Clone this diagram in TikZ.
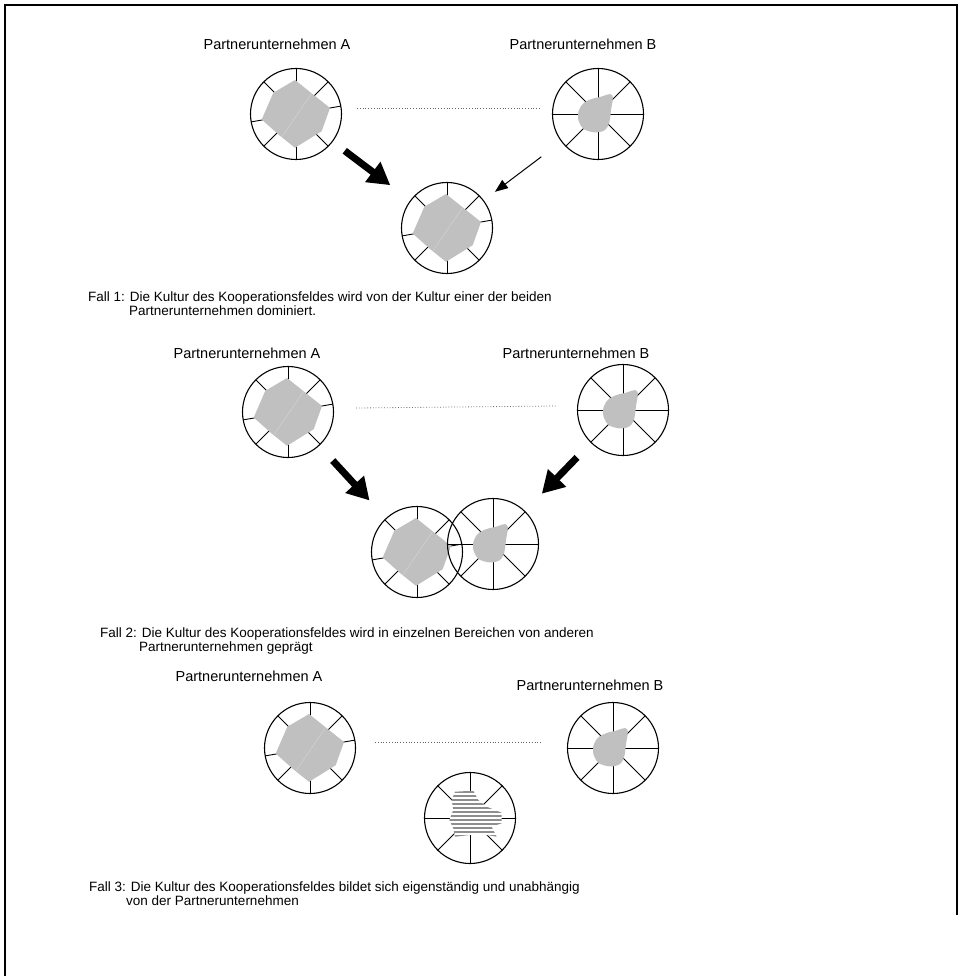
\documentclass[tikz,border=0pt]{standalone}
\usepackage{fontspec}
\setmainfont{Liberation Sans}
\usepackage{tikz}
\usetikzlibrary{arrows.meta}
\definecolor{profgray}{HTML}{C0C0C0}
\definecolor{stripegray}{HTML}{8E8E8E}

\begin{document}
\begin{tikzpicture}[x=1pt,y=-1pt,
  wheel/.style={circle,draw,line width=1.1pt,minimum size=91pt,inner sep=0pt},
  partner/.style={font=\fontsize{14.5}{17}\selectfont,anchor=base,inner sep=0pt},
  note/.style={font=\fontsize{13.5}{14}\selectfont,anchor=base west,inner sep=0pt},
  bigarrow/.style={-{Triangle[length=22pt,width=24pt]},line width=7pt},
  thinarrow/.style={-{Triangle[length=13pt,width=10pt]},line width=1pt},
  dotline/.style={dotted,gray!80!black,line width=0.8pt},
  spokesA/.pic={
    \foreach \a in {-90,-45,-10,45,90,135,170,-135}
      \draw[line width=0.9pt] (0,0) -- (\a:45.5);
    \fill[profgray] (-1,-34) -- (34,-6) -- (25.7,17.2) -- (-1,33.8) -- (-17,21)
      -- (-34.3,5.5) -- (-22.7,-21.2) -- cycle;
    \draw[profgray!70!white,line width=0.5pt] (15.7,-20.6) -- (-14.3,23.2);
  },
  spokesB/.pic={
    \foreach \a in {0,45,...,315}
      \draw[line width=0.9pt] (0,0) -- (\a:45.5);
    \fill[profgray] plot[smooth cycle,tension=0.7] coordinates {(14,-19) (13,-4)
      (10,12) (2,18) (-10,17) (-17,12) (-20,2) (-17,-8) (-9,-14) (2,-17)};
  },
  spokesK/.pic={
    \foreach \a in {0,45,...,315}
      \draw[line width=0.9pt] (0,0) -- (\a:46);
    \fill[white] (-15,-26.3) -- (3.3,-27.3) -- (8.3,-18) -- (16.7,-11.3) -- (31.7,-5.3)
      -- (31.7,5.3) -- (21.7,8.7) -- (26.7,18.7) -- (11.7,16) -- (0,17) -- (-15,18.7)
      -- (-16.7,10.3) -- (-20.7,2) -- (-16.7,-8) -- (-18.3,-18) -- cycle;
    \begin{scope}
      \clip (-15,-26.3) -- (3.3,-27.3) -- (8.3,-18) -- (16.7,-11.3) -- (31.7,-5.3)
        -- (31.7,5.3) -- (21.7,8.7) -- (26.7,18.7) -- (11.7,16) -- (0,17) -- (-15,18.7)
        -- (-16.7,10.3) -- (-20.7,2) -- (-16.7,-8) -- (-18.3,-18) -- cycle;
      \foreach \s in {-26,-22,...,18}
        \draw[stripegray,line width=2.3pt] (-22,\s) -- (33,\s);
    \end{scope}
  }
]
  \useasboundingbox (0,0) rectangle (961,976);
  \draw[line width=2pt] (5,976) -- (5,5) -- (957,5) -- (957,915);

  % Fall 1
  \node[partner] (la1) at (277,50) {Partnerunternehmen A};
  \node[partner] (lb1) at (583,50) {Partnerunternehmen B};
  \pic at (296,114) {spokesA};
  \pic at (598,114) {spokesB};
  \pic at (447,228) {spokesA};
  \node[wheel] (a1) at (296,114) {};
  \node[wheel] (b1) at (598,114) {};
  \node[wheel] (k1) at (447,228) {};
  \draw[dotline] ([xshift=15pt,yshift=6pt]a1.east) -- ([xshift=-11pt,yshift=6pt]b1.west);
  \draw[bigarrow,shorten <=15pt,shorten >=25pt] (a1) -- (k1);
  \draw[thinarrow,shorten <=25pt,shorten >=14pt] (b1) -- (k1);
  \node[note] (f1) at (88,301) {Fall 1: Die Kultur des Kooperationsfeldes wird von der Kultur einer der beiden};
  \node[note] (f1b) at (129,315) {Partnerunternehmen dominiert.};

  % Fall 2
  \node[partner] (la2) at (247,358) {Partnerunternehmen A};
  \node[partner] (lb2) at (576,358) {Partnerunternehmen B};
  \pic at (288,412) {spokesA};
  \pic at (623,410) {spokesB};
  \pic at (417,552) {spokesA};
  \pic at (493,544) {spokesB};
  \node[wheel] (a2) at (288,412) {};
  \node[wheel] (b2) at (623,410) {};
  \node[wheel] (k2a) at (417,552) {};
  \node[wheel] (k2b) at (493,544) {};
  \draw[dotline] ([xshift=22pt,yshift=4pt]a2.east) -- ([xshift=-21pt,yshift=4pt]b2.west);
  \draw[bigarrow,shorten <=20pt,shorten >=24pt] (a2) -- (k2a);
  \draw[bigarrow,shorten <=20pt,shorten >=24pt] (b2) -- (k2b);
  \node[note] (f2) at (100,637) {Fall 2: Die Kultur des Kooperationsfeldes wird in einzelnen Bereichen von anderen};
  \node[note] (f2b) at (139,651) {Partnerunternehmen geprägt};

  % Fall 3
  \node[partner] (la3) at (249,681) {Partnerunternehmen A};
  \node[partner] (lb3) at (590,690) {Partnerunternehmen B};
  \pic at (310,748) {spokesA};
  \pic at (613,748) {spokesB};
  \pic at (470,818) {spokesK};
  \node[wheel] (a3) at (310,748) {};
  \node[wheel] (b3) at (613,748) {};
  \node[wheel] (k3) at (470,818) {};
  \draw[dotline] ([xshift=19pt,yshift=6pt]a3.east) -- ([xshift=-25pt,yshift=6pt]b3.west);
  \node[note] (f3) at (89,891) {Fall 3: Die Kultur des Kooperationsfeldes bildet sich eigenständig und unabhängig};
  \node[note] (f3b) at (126,905) {von der Partnerunternehmen};
\end{tikzpicture}
\end{document}
